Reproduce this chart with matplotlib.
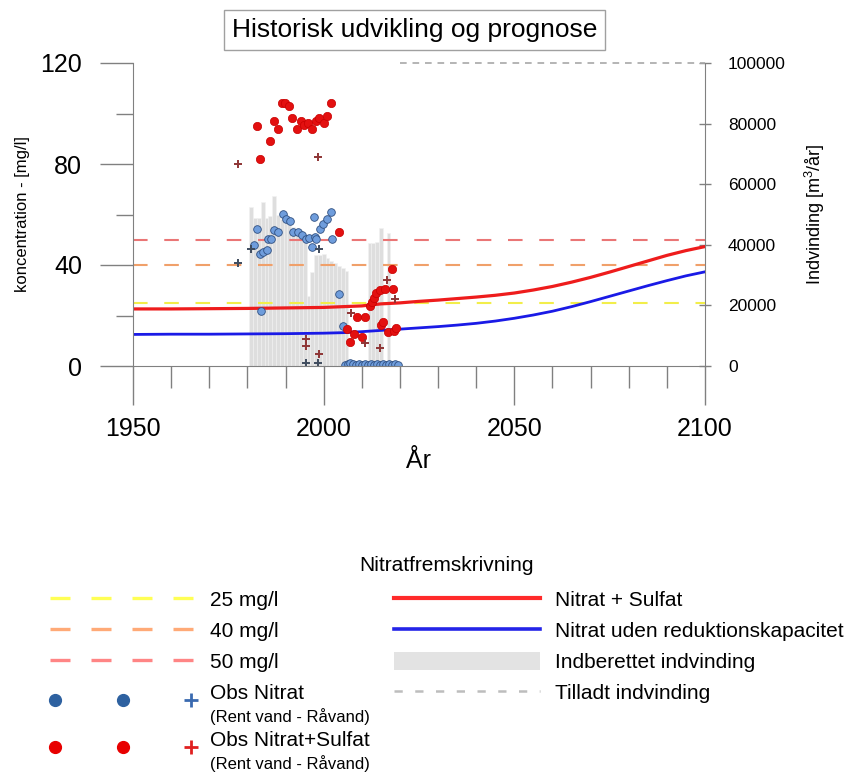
import matplotlib
matplotlib.use("Agg")
import matplotlib.pyplot as plt
from matplotlib.lines import Line2D
from matplotlib.patches import Patch
from matplotlib.legend_handler import HandlerTuple
from matplotlib.ticker import MultipleLocator

plt.rcParams['font.family'] = ['Liberation Sans', 'DejaVu Sans']
plt.rcParams['mathtext.fontset'] = 'custom'
plt.rcParams['mathtext.rm'] = 'Liberation Sans'

# Projection curves (mg/l)
proj_years = [1950, 1960, 1970, 1980, 1990, 2000, 2005, 2010, 2015, 2020, 2025, 2030, 2035,
              2040, 2045, 2050, 2055, 2060, 2065, 2070, 2075, 2080, 2085, 2090, 2095, 2100]
nitrat_sulfat = [22.6, 22.6, 22.7, 22.8, 23.0, 23.2, 23.5, 23.8, 24.6, 25.0, 25.6, 26.1, 26.7,
                 27.3, 28.0, 28.9, 30.1, 31.5, 33.2, 35.1, 37.2, 39.4, 41.6, 43.8, 45.7, 47.3]
nitrat_uden = [12.5, 12.6, 12.6, 12.7, 12.8, 13.0, 13.2, 13.6, 14.1, 14.6, 15.1, 15.6, 16.2,
               16.9, 17.8, 18.9, 20.2, 21.7, 23.5, 25.5, 27.6, 29.7, 31.8, 33.8, 35.7, 37.3]

# Reported abstraction (m3/yr)
bar_years = list(range(1981, 2007)) + [2012, 2013, 2014, 2015, 2016, 2017]
indvinding = [52500, 49000, 49000, 54000, 49000, 49500, 56000, 50000, 48500, 47500, 47000,
              46000, 45000, 44500, 43000, 23000, 31000, 36500, 36500, 37000, 35500, 34500,
              34000, 33000, 32500, 31500,
              40500, 40500, 41000, 45500, 0, 44000]
tilladt_years = [2020, 2100]
tilladt = [100000, 100000]

# Observations
ns_years = [1982.5, 1983.3, 1986.0, 1987.1, 1988.1, 1989.0, 1989.9, 1991.0, 1991.8, 1992.9,
            1994.1, 1994.9, 1996.0, 1996.9, 1998.0, 1998.9, 2000.0, 2001.0, 2001.9,
            2004.1, 2006.0, 2006.9, 2008.0, 2008.7, 2010.0, 2010.9, 2012.2, 2012.6, 2013.1,
            2013.7, 2014.8, 2015.0, 2015.5, 2016.0, 2016.9, 2017.9, 2018.1, 2018.5, 2018.9]
ns_values = [95.0, 82.0, 89.1, 97.0, 93.9, 104.0, 104.0, 103.0, 98.1, 93.9,
             97.0, 95.4, 96.1, 93.9, 97.0, 98.1, 96.1, 99.1, 104.0,
             53.1, 14.5, 9.4, 12.7, 19.5, 11.4, 19.5, 23.8, 25.5, 27.1,
             28.8, 30.1, 16.2, 17.5, 30.5, 13.6, 38.4, 30.5, 13.9, 14.9]
ns_plus_years = [1977.6, 1998.6, 1995.4, 1995.4, 1998.8, 2007.2, 2010.9, 2014.8, 2016.6, 2018.7]
ns_plus_values = [80.0, 82.9, 10.6, 7.9, 4.8, 20.9, 9.0, 7.2, 34.1, 26.4]

n_years = [1981.8, 1982.6, 1983.3, 1983.6, 1984.2, 1985.1, 1985.5, 1986.2, 1987.0, 1987.9,
           1989.3, 1990.1, 1991.2, 1992.0, 1993.2, 1994.2, 1995.3, 1996.2, 1996.9, 1997.5,
           1997.7, 1997.9, 1999.0, 1999.9, 2000.8, 2001.8, 2002.1, 2004.1, 2005.1,
           2005.6, 2006.3, 2007.0, 2007.6, 2008.4, 2009.2, 2010.0, 2010.8, 2011.6, 2012.4,
           2013.2, 2014.0, 2014.8, 2015.6, 2016.4, 2017.2, 2018.0, 2018.8, 2019.5]
n_values = [47.9, 54.1, 44.2, 21.9, 45.3, 45.9, 50.2, 50.2, 53.9, 53.2,
            60.1, 58.1, 57.4, 53.2, 53.2, 51.9, 50.3, 50.6, 47.2, 58.9,
            51.2, 50.2, 54.3, 56.1, 58.1, 61.1, 50.2, 28.4, 15.8,
            0.4, 0.6, 1.2, 0.8, 0.5, 0.6, 0.4, 0.7, 0.5, 0.6,
            0.5, 0.6, 0.4, 0.6, 0.5, 0.7, 0.5, 0.6, 0.5]
n_plus_years = [1977.6, 1981.0, 1998.8, 1995.4, 1998.6]
n_plus_values = [40.7, 46.2, 46.3, 1.3, 1.3]

limits = [25, 40, 50]
limit_colors = ['#f2ee4a', '#f0a06a', '#ea7676']
limit_labels = ['25 mg/l', '40 mg/l', '50 mg/l']
obs_labels = ['Obs Nitrat', 'Obs Nitrat+Sulfat']

GRAY = '#808080'

fig = plt.figure(figsize=(8.48, 7.72), dpi=100)
ax = fig.add_axes([133 / 848, 1 - 366 / 772, 572 / 848, 303 / 772])
ax2 = ax.twinx()
ax.set_zorder(2)
ax2.set_zorder(1)
ax.patch.set_visible(False)

# bars + allowed abstraction on the right axis
ax2.bar(bar_years, indvinding, width=1.0, color='#dedede', edgecolor='#f2f2f2', linewidth=0.4)
ax2.plot(tilladt_years, tilladt, color='#a8a8a8', lw=1.2, dashes=(4, 3.5), clip_on=False)

for val, col in zip(limits, limit_colors):
    ax.axhline(val, color=col, lw=1.5, dashes=(7, 8))

ax.plot(proj_years, nitrat_sulfat, color='#ee1c1c', lw=2.3)
ax.plot(proj_years, nitrat_uden, color='#1a1ae6', lw=2.0)

ax.plot(n_years, n_values, 'o', ms=5.5, mfc='#6f9ddc', mec='#2f4f80', mew=0.6, ls='none')
ax.plot(ns_years, ns_values, 'o', ms=6, mfc='#e31010', mec='#c80000', mew=0.5, ls='none')
ax.plot(n_plus_years, n_plus_values, '+', ms=6, mew=1.4, color='#3f4c5e', ls='none')
ax.plot(ns_plus_years, ns_plus_values, '+', ms=6, mew=1.4, color='#8e3535', ls='none')

# axes styling
ax.set_xlim(1950, 2100)
ax.set_ylim(0, 120)
ax2.set_ylim(0, 100000)
ax.set_xticks([1950, 2000, 2050, 2100])
ax.xaxis.set_minor_locator(MultipleLocator(10))
ax.set_yticks([0, 40, 80, 120])
ax.yaxis.set_minor_locator(MultipleLocator(20))
ax2.set_yticks([0, 20000, 40000, 60000, 80000, 100000])
ax2.set_yticklabels(['0', '20000', '40000', '60000', '80000', '100000'])

ax.tick_params(axis='x', which='major', length=28, width=1, color=GRAY, pad=9, labelsize=18)
ax.tick_params(axis='x', which='minor', length=16, width=1, color=GRAY)
ax.tick_params(axis='y', which='major', length=24, width=1, color=GRAY, pad=12.5, labelsize=18)
ax.tick_params(axis='y', which='minor', length=12, width=1, color=GRAY)
ax2.tick_params(axis='y', direction='inout', length=8, width=1, color=GRAY, pad=12.5, labelsize=12.5)

for name, sp in ax.spines.items():
    sp.set_color(GRAY)
    sp.set_visible(name in ('left', 'bottom'))
for name, sp in ax2.spines.items():
    sp.set_color(GRAY)
    sp.set_visible(name == 'right')

ax.set_xlabel('År', fontsize=18)
ax.xaxis.set_label_coords(0.5, -0.274)
ax.set_ylabel('koncentration - [mg/l]', fontsize=12)
ax.yaxis.set_label_coords(-0.180, 0.5)
ax2.set_ylabel(r'Indvinding [m$^\mathregular{3}$/år]', fontsize=13)
ax2.yaxis.set_label_coords(1.171, 0.5)

fig.text(0.489, 0.961, 'Historisk udvikling og prognose', fontsize=19, ha='center', va='center',
         bbox=dict(boxstyle='square,pad=0.3', fc='white', ec='#a0a0a0', lw=1))

# legend
def obs_handle(c1, c2):
    return (Line2D([], [], marker='o', ls='none', ms=8.5, color=c1),
            Line2D([], [], marker='o', ls='none', ms=8.5, color=c1),
            Line2D([], [], marker='+', ls='none', ms=10, mew=2, color=c2))

handles = [
    Line2D([], [], color='#ffff55', lw=2.4, dashes=(6, 6.3)),
    Line2D([], [], color='#ffaa77', lw=2.4, dashes=(6, 6.3)),
    Line2D([], [], color='#ff8585', lw=2.4, dashes=(6, 6.3)),
    obs_handle('#2e61a0', '#3a6ab0'),
    obs_handle('#e80000', '#e02020'),
    Line2D([], [], color='#ff2a2a', lw=3),
    Line2D([], [], color='#2424e8', lw=2.6),
    Patch(facecolor='#e3e3e3', edgecolor='none'),
    Line2D([], [], color='#bdbdbd', lw=1.8, dashes=(3.3, 5)),
]
# obs rows get an empty two-line label; their text is placed below
labels = limit_labels + ['\n', '\n', 'Nitrat + Sulfat',
                         'Nitrat uden reduktionskapacitet', 'Indberettet indvinding',
                         'Tilladt indvinding']
leg = fig.legend(handles, labels, loc='upper left', bbox_to_anchor=(0.059, 0.2358), ncol=2,
                 frameon=False, fontsize=15, handlelength=7.0, handleheight=1.0,
                 handletextpad=0.7, columnspacing=5.53, labelspacing=0.5, borderpad=0,
                 borderaxespad=0, handler_map={tuple: HandlerTuple(ndivide=None, pad=2.74)})
for t in leg.get_texts()[3:5]:
    t.set_linespacing(0.9)
fig.text(0.526, 0.267, 'Nitratfremskrivning', fontsize=15, ha='center', va='center')

fig.canvas.draw()
W, H = fig.bbox.width, fig.bbox.height
for t, lab in zip(leg.get_texts()[3:5], obs_labels):
    bb = t.get_window_extent()
    yc = (bb.y0 + bb.y1) / 2
    fig.text(bb.x0 / W, (yc + 7) / H, lab, fontsize=15, ha='left', va='center')
    fig.text(bb.x0 / W, (yc - 16) / H, '(Rent vand - Råvand)', fontsize=12,
             ha='left', va='center')

fig.savefig('out.png', dpi=100)
